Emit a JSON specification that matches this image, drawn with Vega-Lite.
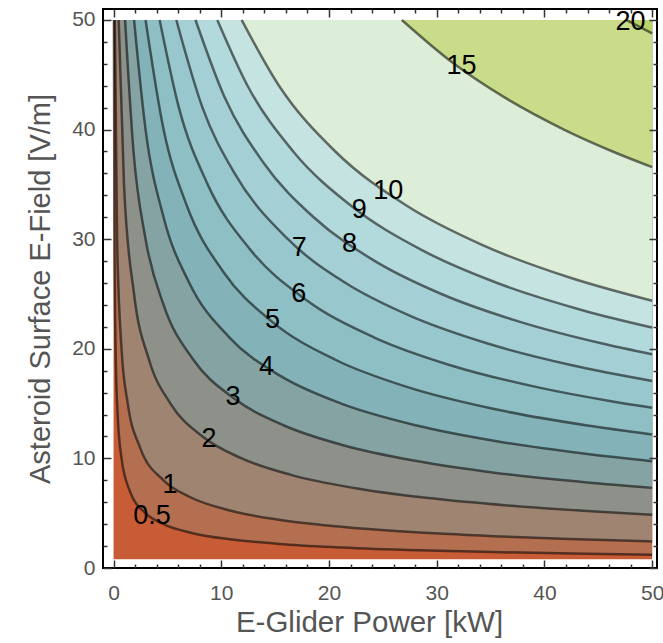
{
  "$schema": "https://vega.github.io/schema/vega-lite/v6.json",
  "width": 554,
  "height": 559,
  "autosize": "none",
  "padding": {"left": 103, "top": 9, "right": 6, "bottom": 75},
  "background": "white",
  "config": {"view": {"stroke": "black", "strokeWidth": 2}, "font": "Liberation Sans"},
  "datasets": {
    "contours": [
      {"level": 0.5, "P": 0.0297, "E": 50}, {"level": 0.5, "P": 0.0826, "E": 30}, {"level": 0.5, "P": 0.186, "E": 20}, {"level": 0.5, "P": 0.379, "E": 14}, {"level": 0.5, "P": 0.743, "E": 10}, {"level": 0.5, "P": 1.517, "E": 7}, {"level": 0.5, "P": 2.97, "E": 5}, {"level": 0.5, "P": 4.64, "E": 4}, {"level": 0.5, "P": 7.26, "E": 3.2}, {"level": 0.5, "P": 11.0, "E": 2.6}, {"level": 0.5, "P": 15.35, "E": 2.2}, {"level": 0.5, "P": 20.6, "E": 1.9}, {"level": 0.5, "P": 27.3, "E": 1.65}, {"level": 0.5, "P": 35.3, "E": 1.45}, {"level": 0.5, "P": 44.0, "E": 1.3}, {"level": 0.5, "P": 50, "E": 1.2},
      {"level": 1, "P": 0.119, "E": 50}, {"level": 1, "P": 0.33, "E": 30}, {"level": 1, "P": 0.743, "E": 20}, {"level": 1, "P": 1.321, "E": 15}, {"level": 1, "P": 2.457, "E": 11}, {"level": 1, "P": 4.645, "E": 8}, {"level": 1, "P": 7.04, "E": 6.5}, {"level": 1, "P": 11.0, "E": 5.2}, {"level": 1, "P": 15.36, "E": 4.4}, {"level": 1, "P": 20.6, "E": 3.8}, {"level": 1, "P": 27.3, "E": 3.3}, {"level": 1, "P": 35.35, "E": 2.9}, {"level": 1, "P": 43.98, "E": 2.6}, {"level": 1, "P": 50, "E": 2.42},
      {"level": 2, "P": 0.476, "E": 50}, {"level": 2, "P": 0.971, "E": 35}, {"level": 2, "P": 1.903, "E": 25}, {"level": 2, "P": 3.294, "E": 19}, {"level": 2, "P": 5.285, "E": 15}, {"level": 2, "P": 8.258, "E": 12}, {"level": 2, "P": 11.89, "E": 10}, {"level": 2, "P": 16.46, "E": 8.5}, {"level": 2, "P": 22.32, "E": 7.3}, {"level": 2, "P": 29.03, "E": 6.4}, {"level": 2, "P": 36.6, "E": 5.7}, {"level": 2, "P": 43.98, "E": 5.2}, {"level": 2, "P": 50, "E": 4.86},
      {"level": 3, "P": 1.07, "E": 50}, {"level": 3, "P": 1.853, "E": 38}, {"level": 3, "P": 2.973, "E": 30}, {"level": 3, "P": 4.645, "E": 24}, {"level": 3, "P": 7.412, "E": 19}, {"level": 3, "P": 11.14, "E": 15.5}, {"level": 3, "P": 15.83, "E": 13}, {"level": 3, "P": 21.33, "E": 11.2}, {"level": 3, "P": 27.86, "E": 9.8}, {"level": 3, "P": 35.35, "E": 8.7}, {"level": 3, "P": 43.98, "E": 7.8}, {"level": 3, "P": 50, "E": 7.31},
      {"level": 4, "P": 1.903, "E": 50}, {"level": 4, "P": 2.973, "E": 40}, {"level": 4, "P": 4.645, "E": 32}, {"level": 4, "P": 7.037, "E": 26}, {"level": 4, "P": 10.79, "E": 21}, {"level": 4, "P": 15.53, "E": 17.5}, {"level": 4, "P": 21.14, "E": 15}, {"level": 4, "P": 28.15, "E": 13}, {"level": 4, "P": 35.97, "E": 11.5}, {"level": 4, "P": 43.98, "E": 10.4}, {"level": 4, "P": 50, "E": 9.75},
      {"level": 5, "P": 2.973, "E": 50}, {"level": 5, "P": 4.645, "E": 40}, {"level": 5, "P": 6.825, "E": 33}, {"level": 5, "P": 10.2, "E": 27}, {"level": 5, "P": 14.68, "E": 22.5}, {"level": 5, "P": 20.59, "E": 19}, {"level": 5, "P": 27.3, "E": 16.5}, {"level": 5, "P": 35.35, "E": 14.5}, {"level": 5, "P": 43.98, "E": 13}, {"level": 5, "P": 50, "E": 12.19},
      {"level": 6, "P": 4.281, "E": 50}, {"level": 6, "P": 6.067, "E": 42}, {"level": 6, "P": 8.737, "E": 35}, {"level": 6, "P": 12.73, "E": 29}, {"level": 6, "P": 17.83, "E": 24.5}, {"level": 6, "P": 24.27, "E": 21}, {"level": 6, "P": 31.27, "E": 18.5}, {"level": 6, "P": 39.31, "E": 16.5}, {"level": 6, "P": 46.32, "E": 15.2}, {"level": 6, "P": 50, "E": 14.63},
      {"level": 7, "P": 5.827, "E": 50}, {"level": 7, "P": 8.258, "E": 42}, {"level": 7, "P": 11.24, "E": 36}, {"level": 7, "P": 16.19, "E": 30}, {"level": 7, "P": 21.55, "E": 26}, {"level": 7, "P": 27.54, "E": 23}, {"level": 7, "P": 34.66, "E": 20.5}, {"level": 7, "P": 42.56, "E": 18.5}, {"level": 7, "P": 50, "E": 17.07},
      {"level": 8, "P": 7.611, "E": 50}, {"level": 8, "P": 10.29, "E": 43}, {"level": 8, "P": 13.9, "E": 37}, {"level": 8, "P": 18.58, "E": 32}, {"level": 8, "P": 24.27, "E": 28}, {"level": 8, "P": 30.44, "E": 25}, {"level": 8, "P": 37.59, "E": 22.5}, {"level": 8, "P": 45.28, "E": 20.5}, {"level": 8, "P": 50, "E": 19.5},
      {"level": 9, "P": 9.633, "E": 50}, {"level": 9, "P": 12.44, "E": 44}, {"level": 9, "P": 16.68, "E": 38}, {"level": 9, "P": 22.11, "E": 33}, {"level": 9, "P": 28.63, "E": 29}, {"level": 9, "P": 35.62, "E": 26}, {"level": 9, "P": 43.61, "E": 23.5}, {"level": 9, "P": 50, "E": 21.94},
      {"level": 10, "P": 11.89, "E": 50}, {"level": 10, "P": 15.36, "E": 44}, {"level": 10, "P": 20.59, "E": 38}, {"level": 10, "P": 27.3, "E": 33}, {"level": 10, "P": 34.16, "E": 29.5}, {"level": 10, "P": 42.34, "E": 26.5}, {"level": 10, "P": 50, "E": 24.38},
      {"level": 15, "P": 26.76, "E": 50}, {"level": 15, "P": 31.61, "E": 46}, {"level": 15, "P": 36.18, "E": 43}, {"level": 15, "P": 41.81, "E": 40}, {"level": 15, "P": 46.33, "E": 38}, {"level": 15, "P": 50, "E": 36.57},
      {"level": 20, "P": 47.57, "E": 50}, {"level": 20, "P": 50, "E": 48.77}
    ],
    "labels": [
      {"t": "20", "P": 48.0, "E": 49.8}, {"t": "15", "P": 32.3, "E": 45.8}, {"t": "10", "P": 25.5, "E": 34.4},
      {"t": "9", "P": 22.8, "E": 32.7}, {"t": "8", "P": 21.9, "E": 29.6}, {"t": "7", "P": 17.25, "E": 29.2},
      {"t": "6", "P": 17.2, "E": 25.0}, {"t": "5", "P": 14.75, "E": 22.6}, {"t": "4", "P": 14.2, "E": 18.3},
      {"t": "3", "P": 11.1, "E": 15.6}, {"t": "2", "P": 8.87, "E": 11.8}, {"t": "1", "P": 5.25, "E": 7.6},
      {"t": "0.5", "P": 3.57, "E": 4.7}
    ]
  },
  "layer": [
    {
      "data": {"values": [{}]},
      "mark": {"type": "rect", "color": "#c85c36"},
      "encoding": {
        "x": {"datum": 0, "type": "quantitative", "scale": {"domain": [-0.98, 50.45], "nice": false, "zero": false},
          "axis": {"orient": "bottom", "zindex": 2, "values": [0, 10, 20, 30, 40, 50], "offset": -8, "domain": false, "grid": false,
            "tickSize": 8, "tickColor": "#333", "tickWidth": 1.5,
            "labelColor": "#555", "labelFontSize": 21, "labelPadding": 14, "labelFont": "Liberation Sans",
            "title": "E-Glider Power [kW]", "titleFontSize": 29.5, "titleFontWeight": "normal", "titleColor": "#555", "titleFont": "Liberation Sans", "titlePadding": 5, "titleX": 266}},
        "x2": {"datum": 50},
        "y": {"datum": 0.8, "type": "quantitative", "scale": {"domain": [0, 51], "nice": false, "zero": false},
          "axis": {"orient": "left", "zindex": 2, "values": [0, 10, 20, 30, 40, 50], "offset": -8, "domain": false, "grid": false,
            "tickSize": 8, "tickColor": "#333", "tickWidth": 1.5,
            "labelColor": "#555", "labelFontSize": 21, "labelPadding": 8, "labelFont": "Liberation Sans",
            "title": "Asteroid Surface E-Field [V/m]", "titleFontSize": 29, "titleFontWeight": "normal", "titleColor": "#555", "titleFont": "Liberation Sans", "titlePadding": 16}},
        "y2": {"datum": 50}
      }
    },
    {
      "data": {"name": "contours"},
      "mark": {"type": "area", "interpolate": "monotone"},
      "encoding": {
        "x": {"field": "P", "type": "quantitative", "scale": {"domain": [-0.98, 50.45], "nice": false, "zero": false},
          "axis": {"orient": "top", "zindex": 2, "values": [0, 10, 20, 30, 40, 50], "offset": -8, "domain": false, "grid": false,
            "labels": false, "title": null, "tickSize": 8, "tickColor": "#333", "tickWidth": 1.5}},
        "y": {"field": "E", "type": "quantitative", "scale": {"domain": [0, 51], "nice": false, "zero": false},
          "axis": {"orient": "right", "zindex": 2, "values": [0, 10, 20, 30, 40, 50], "offset": -8, "domain": false, "grid": false,
            "labels": false, "title": null, "tickSize": 8, "tickColor": "#333", "tickWidth": 1.5}},
        "y2": {"datum": 50},
        "color": {"field": "level", "type": "ordinal", "legend": null,
          "scale": {"domain": [0.5, 1, 2, 3, 4, 5, 6, 7, 8, 9, 10, 15, 20],
            "range": ["#b46f50", "#a08472", "#8e918a", "#86a3a3", "#83b3b9", "#8dbfc5", "#98c8ce", "#a4d0d5", "#b2d9dc", "#c4e3e1", "#dcedd8", "#c9dc8a", "#bcd36a"]}}
      }
    },
    {
      "data": {"name": "contours"},
      "mark": {"type": "line", "interpolate": "monotone", "color": "black", "opacity": 0.55, "strokeWidth": 2.5},
      "encoding": {
        "x": {"field": "P", "type": "quantitative", "scale": {"domain": [-0.98, 50.45], "nice": false, "zero": false},
          "axis": {"orient": "bottom", "zindex": 2, "values": [2,4,6,8,12,14,16,18,22,24,26,28,32,34,36,38,42,44,46,48], "offset": -4, "domain": false, "grid": false,
            "labels": false, "title": null, "tickSize": 4, "tickColor": "#333", "tickWidth": 1.5}},
        "y": {"field": "E", "type": "quantitative", "scale": {"domain": [0, 51], "nice": false, "zero": false},
          "axis": {"orient": "left", "zindex": 2, "values": [2,4,6,8,12,14,16,18,22,24,26,28,32,34,36,38,42,44,46,48], "offset": -4, "domain": false, "grid": false,
            "labels": false, "title": null, "tickSize": 4, "tickColor": "#333", "tickWidth": 1.5}},
        "detail": {"field": "level", "type": "nominal"}
      }
    },
    {
      "data": {"name": "labels"},
      "mark": {"type": "text", "font": "Liberation Sans", "fontSize": 27, "color": "black", "align": "center", "baseline": "middle"},
      "encoding": {
        "x": {"field": "P", "type": "quantitative", "scale": {"domain": [-0.98, 50.45], "nice": false, "zero": false},
          "axis": {"orient": "top", "zindex": 2, "values": [2,4,6,8,12,14,16,18,22,24,26,28,32,34,36,38,42,44,46,48], "offset": -4, "domain": false, "grid": false,
            "labels": false, "title": null, "tickSize": 4, "tickColor": "#333", "tickWidth": 1.5}},
        "y": {"field": "E", "type": "quantitative", "scale": {"domain": [0, 51], "nice": false, "zero": false},
          "axis": {"orient": "right", "zindex": 2, "values": [2,4,6,8,12,14,16,18,22,24,26,28,32,34,36,38,42,44,46,48], "offset": -4, "domain": false, "grid": false,
            "labels": false, "title": null, "tickSize": 4, "tickColor": "#333", "tickWidth": 1.5}},
        "text": {"field": "t", "type": "nominal"}
      }
    }
  ],
  "resolve": {"axis": {"x": "independent", "y": "independent"}}
}
